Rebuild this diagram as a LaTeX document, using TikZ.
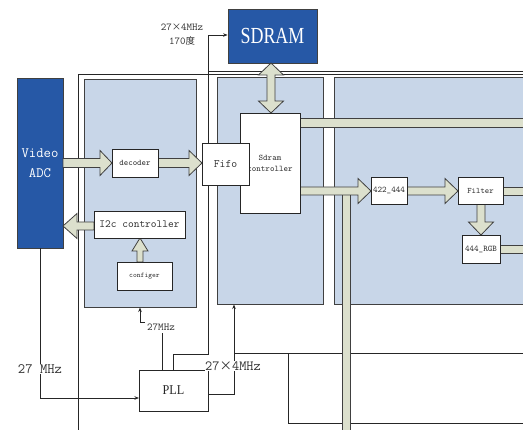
\documentclass[tikz,border=0pt]{standalone}
\usepackage{fontspec}
\setmainfont{Liberation Serif}
\newcommand\mono{\ttfamily}
\newfontfamily\cjk{Noto Sans CJK SC}
\usetikzlibrary{arrows.meta}
\definecolor{dblue}{HTML}{2658A6}
\definecolor{lblue}{HTML}{C8D6E8}
\definecolor{fatfill}{HTML}{DCE0CD}
\definecolor{edgec}{HTML}{404040}
\definecolor{txt}{HTML}{333333}
\newcommand\fath[6]{\draw[fat] (#1,#3-#4) -- (#6,#3-#4) -- (#6,#3-#5) -- (#2,#3) -- (#6,#3+#5) -- (#6,#3+#4) -- (#1,#3+#4) -- cycle;}
\newcommand\fatv[6]{\draw[fat] (#3-#4,#1) -- (#3-#4,#6) -- (#3-#5,#6) -- (#3,#2) -- (#3+#5,#6) -- (#3+#4,#6) -- (#3+#4,#1) -- cycle;}
\begin{document}
\begin{tikzpicture}[x=1pt,y=-1pt,
  panel/.style={draw=edgec, fill=lblue, line width=0.8pt},
  darkbox/.style={draw=edgec, fill=dblue, text=white, inner sep=0pt, line width=0.8pt},
  wbox/.style={draw=black!85, fill=white, line width=0.8pt, inner sep=0pt, text=txt},
  fat/.style={draw=edgec, fill=fatfill, line width=0.8pt, line join=miter},
  wire/.style={draw=black!85, line width=0.7pt},
  tip/.style={-{Stealth[length=4.5pt,width=3.5pt]}},
  lab/.style={fill=white, inner sep=0.6pt, text=txt}]
\useasboundingbox (0,0) rectangle (523,430);
% panels
\draw[panel] (84,79) rectangle (196,307);
\draw[panel] (217,77) rectangle (323,304);
\draw[panel] (334,77) rectangle (530,304);
% outer wires
\draw[wire] (78,432) -- (78,74) -- (526,74);
\draw[wire] (208,71) -- (526,71);
\draw[wire] (234,353) -- (526,353);
\draw[wire] (526,423) -- (288,423) -- (288,353);
% dark boxes
\node[darkbox, minimum width=89pt, minimum height=54pt] (sdram) at (272.5,36)
  {\fontsize{23}{23}\selectfont\scalebox{0.78}[1]{SDRAM}};
\node[darkbox, minimum width=46pt, minimum height=170pt, align=center, font=\mono\fontsize{14.3}{20}\selectfont] (adc) at (40,163) {Video\\ADC};
% PLL
\node[wbox, minimum width=69pt, minimum height=41pt, text=black!85, font=\fontsize{13.5}{13.5}\selectfont] (pll) at (173.5,390.5) {\scalebox{0.9}[1]{PLL}};
% thin wires
\draw[wire,tip] (adc.south) |- (139,398);
\node[lab, font=\mono\fontsize{14.3}{14.3}\selectfont] (l27) at (40,369) {27 MHz};
\draw[wire,tip] (173,370) -- (173,354) -- (208,354) -- (208,35) -- (sdram.west |- 0,35);
\node[lab, align=center, font=\mono\fontsize{10.5}{14}\selectfont] (ltop) at (182,35) {27{\cjk\fontsize{9.4}{9.4}\selectfont ×}4MHz\\170{\cjk\fontsize{9.4}{9.4}\selectfont 度}};
\draw[wire] (162,370) -- (162,333);
\draw[wire,tip] (145,322) -- (140,322) -- (140,307.5);
\node[lab, inner sep=0pt, font=\mono\fontsize{10.6}{10.6}\selectfont] (l27b) at (161,327.5) {27MHz};
\draw[wire,tip] (208,394) -- (234,394) -- (234,304.5);
% fat arrows
\fath{63}{112}{163}{4.5}{12.5}{100}
\fath{158}{202}{163}{4.5}{12.5}{189}
\fath{94}{63}{226}{4}{12.5}{77}
\fatv{262}{238}{140}{3}{8}{251}
\draw[fat] (271,63) -- (283.5,75) -- (275,75) -- (275,101) -- (283.5,101) -- (271,113)
  -- (258.5,101) -- (267,101) -- (267,75) -- (258.5,75) -- cycle;
\draw[fat] (300,118) rectangle (530,127);
\fill[fatfill] (342.5,190) rectangle (350.5,434);
\draw[edgec, line width=0.8pt] (342.5,195) -- (342.5,434) (350.5,195) -- (350.5,434);
\fath{300}{371}{191}{4}{12.5}{358}
\fath{407}{458}{191}{4}{12.5}{445}
\draw[fat] (503,187) rectangle (530,195);
\fatv{204}{235}{481}{4}{12.5}{222}
\draw[fat] (500,245) rectangle (530,253);
% white boxes
\node[wbox, minimum width=46pt, minimum height=28pt, font=\mono\fontsize{8.5}{8.5}\selectfont] (dec) at (135,163) {decoder};
\node[wbox, minimum width=60pt, minimum height=100pt, align=center, font=\mono\fontsize{8.6}{11}\selectfont] (ctrl) at (270,163) {Sdram\\controller};
\node[wbox, minimum width=47pt, minimum height=42pt, font=\mono\fontsize{11.4}{11.4}\selectfont] (fifo) at (225.5,164) {Fifo};
\node[wbox, minimum width=36pt, minimum height=27pt, font=\mono\fontsize{8.7}{8.7}\selectfont] (c422) at (389,190.5) {422\_444};
\node[wbox, minimum width=45pt, minimum height=27pt, font=\mono\fontsize{8.3}{8.3}\selectfont] (filt) at (480.5,190.5) {Filter};
\node[wbox, minimum width=38pt, minimum height=28pt, font=\mono\fontsize{8.7}{8.7}\selectfont] (rgb) at (481,249) {444\_RGB};
\node[wbox, minimum width=91pt, minimum height=27pt, font=\mono\fontsize{10.9}{10.9}\selectfont] (i2c) at (139.5,224.5) {I2c controller};
\node[wbox, minimum width=55pt, minimum height=28pt, font=\mono\fontsize{7.2}{7.2}\selectfont] (conf) at (144.5,276) {configer};
\node[lab, font=\mono\fontsize{14}{14}\selectfont] (l4x) at (233,366) {27{\cjk\fontsize{12.5}{12.5}\selectfont ×}4MHz};
\end{tikzpicture}
\end{document}
